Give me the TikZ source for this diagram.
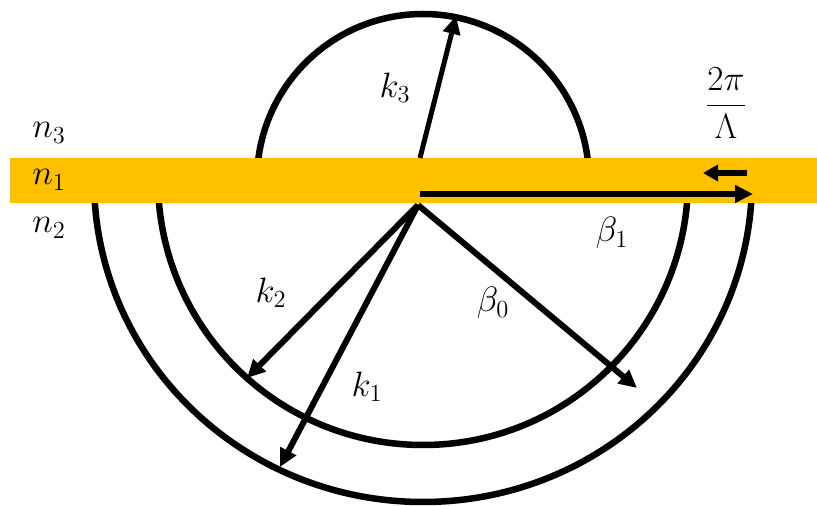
\documentclass[tikz,border=0pt]{standalone}
\usetikzlibrary{arrows.meta,calc}
\definecolor{band}{RGB}{255,192,0}
\begin{document}
\begin{tikzpicture}[x=1pt,y=1pt,
  circ/.style={line width=6.5pt,draw=black},
  vec/.style={line width=6pt,draw=black,-{Triangle[length=18pt,width=17pt]}},
  lbl/.style={font=\huge,scale=1.7,inner sep=0pt}]
\useasboundingbox (0,0) rectangle (817,506);
\coordinate (C) at (423,326);
% arcs
\draw[circ] ($(C)+(166,0)$) arc[start angle=0,end angle=180,radius=166];
\draw[circ] ($(C)+(-265,0)$) arc[start angle=180,end angle=360,radius=265];
\draw[circ] ($(C)+(-329,0)$) arc[start angle=180,end angle=360,x radius=329,y radius=322];
% band
\fill[band] (10,303) rectangle (817,348);
% coordinates
\coordinate (A) at (418,301);
\coordinate (B3) at (420,348);
\coordinate (T3) at (456,490);
\coordinate (T2) at (247,128);
\coordinate (T1) at (280,39);
\coordinate (T0) at (637,118);
\coordinate (S1) at (420,312);
\coordinate (E1) at (753,312);
\coordinate (GS) at (747,333);
\coordinate (GE) at (703,333);
% arrows
\draw[vec,line width=5pt] (B3) -- (T3);
\draw[vec] (A) -- (T2);
\draw[vec] (A) -- (T1);
\draw[vec] (A) -- (T0);
\draw[vec,line width=5.5pt] (S1) -- (E1);
\draw[vec,-{Triangle[length=15pt,width=16pt]}] (GS) -- (GE);
% labels
\node[lbl] (n3) at (49,373) {$n_3$};
\node[lbl] (n1) at (49,326) {$n_1$};
\node[lbl] (n2) at (49,278) {$n_2$};
\node[lbl] (k3) at (395,418) {$k_3$};
\node[lbl] (k2) at (271,213) {$k_2$};
\node[lbl] (k1) at (367,119) {$k_1$};
\node[lbl] (b0) at (493,203) {$\beta_0$};
\node[lbl] (b1) at (612,273) {$\beta_1$};
\node[lbl] (g) at (726,403) {$\displaystyle\frac{2\pi}{\Lambda}$};
\end{tikzpicture}
\end{document}
